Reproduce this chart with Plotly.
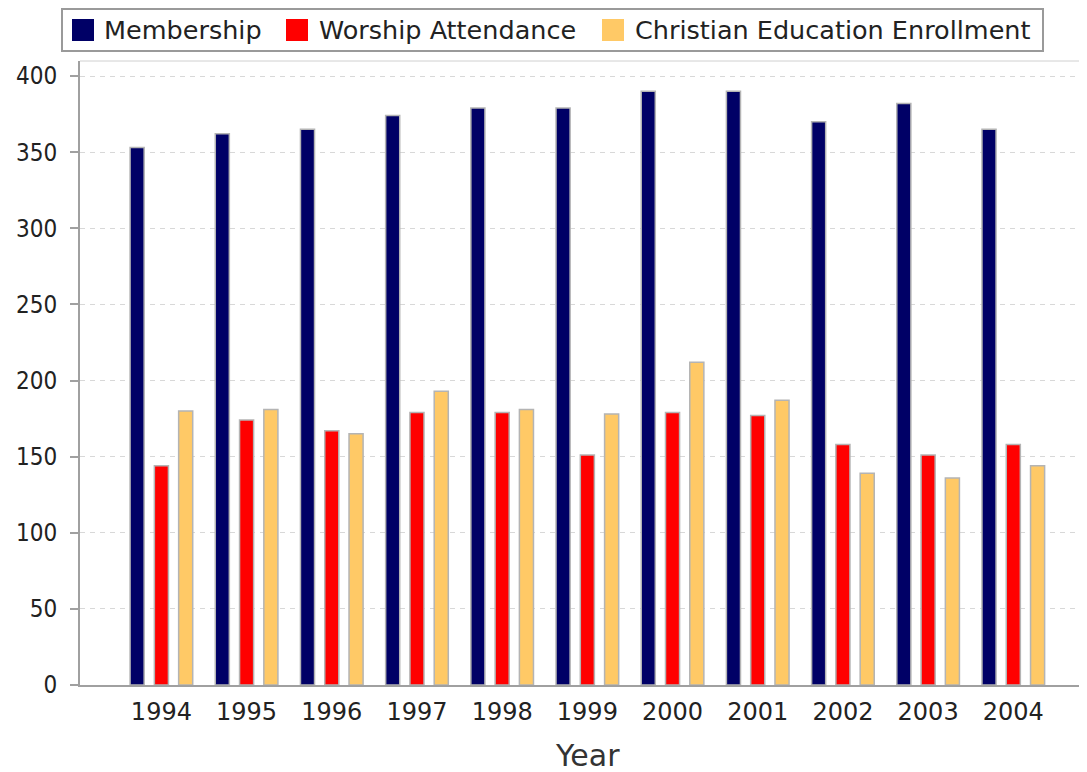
import plotly.graph_objects as go

years = ["1994", "1995", "1996", "1997", "1998", "1999", "2000", "2001", "2002", "2003", "2004"]
membership = [353, 362, 365, 374, 379, 379, 390, 390, 370, 382, 365]
worship = [144, 174, 167, 179, 179, 151, 179, 177, 158, 151, 158]
education = [180, 181, 165, 193, 181, 178, 212, 187, 139, 136, 144]
y_ticks = [0, 50, 100, 150, 200, 250, 300, 350, 400]

series_names = ["Membership", "Worship Attendance", "Christian Education Enrollment"]
series_values = [membership, worship, education]
series_colors = ["#000066", "#ff0000", "#ffc966"]

# page geometry (the html body adds an 8px margin)
BODY = 8
FIG_W, FIG_H = 1087 - BODY, 772 - BODY
PLOT_L, PLOT_T, PLOT_R, PLOT_B = 80, 61, 1087, 685   # page pixels


def px(x):
    return (x - PLOT_L) / (PLOT_R - PLOT_L)


def py(y):
    return (PLOT_B - y) / (PLOT_B - PLOT_T)


fig = go.Figure()
for name, vals, color in zip(series_names, series_values, series_colors):
    fig.add_trace(go.Bar(
        x=years, y=vals, name=name, showlegend=False,
        marker=dict(color=color, line=dict(color="#b4b4b4", width=1.5)),
    ))

FONT = "DejaVu Sans"
TXT = "#222222"

shapes = []
annotations = []
# legend box
shapes.append(dict(type="rect", xref="paper", yref="paper",
                   x0=px(62), x1=px(1043), y0=py(51), y1=py(9),
                   line=dict(color="#9a9a9a", width=2), fillcolor="white", layer="above"))
swatch_x = [72, 286, 602]
text_x = [102, 317, 633]
for name, color, sx, tx in zip(series_names, series_colors, swatch_x, text_x):
    shapes.append(dict(type="rect", xref="paper", yref="paper",
                       x0=px(sx), x1=px(sx + 22), y0=py(41), y1=py(19),
                       line=dict(color=color, width=0), fillcolor=color, layer="above"))
    annotations.append(dict(text=name, xref="paper", yref="paper", x=px(tx), y=py(30),
                            xanchor="left", yanchor="middle", showarrow=False,
                            font=dict(family=FONT, size=25.5, color=TXT)))
# faint plot top border
shapes.append(dict(type="line", xref="paper", yref="paper", x0=0, x1=1, y0=1, y1=1,
                   line=dict(color="#d0d0d0", width=1)))
# x axis title
annotations.append(dict(text="Year", xref="paper", yref="paper", x=px(587.5), y=py(755),
                        xanchor="center", yanchor="middle", showarrow=False,
                        font=dict(family=FONT, size=30, color="#333333")))

y_top = 400 * (PLOT_B - PLOT_T) / (PLOT_B - 76)
x_lo = (PLOT_L - 161.4) / 85.19
x_hi = (PLOT_R - 161.4) / 85.19

fig.update_layout(
    width=FIG_W, height=FIG_H,
    margin=dict(l=PLOT_L - BODY, r=0, t=PLOT_T - BODY, b=FIG_H - (PLOT_B - BODY), pad=0),
    paper_bgcolor="white",
    plot_bgcolor="white",
    barmode="group",
    bargap=0.145,
    bargroupgap=0.42,
    font=dict(family=FONT, color=TXT),
    showlegend=False,
    shapes=shapes,
    annotations=annotations,
    xaxis=dict(
        type="category", range=[x_lo, x_hi],
        showgrid=False, showline=True, linecolor="#a0a0a0", linewidth=2,
        ticks="", ticklabelstandoff=4,
        tickfont=dict(size=24, family=FONT, color=TXT),
        fixedrange=True,
    ),
    yaxis=dict(
        range=[0, y_top], tickvals=y_ticks,
        showgrid=True, gridcolor="#d8d8d8", griddash="5px,5px", gridwidth=1,
        showline=True, linecolor="#a0a0a0", linewidth=2,
        ticks="outside", ticklen=8, tickcolor="#a0a0a0", tickwidth=1.5,
        ticklabelstandoff=8,
        tickfont=dict(size=24, family="DejaVu Sans Condensed, DejaVu Sans", color=TXT),
        zeroline=False, fixedrange=True,
    ),
)

fig.write_html("out.html")
